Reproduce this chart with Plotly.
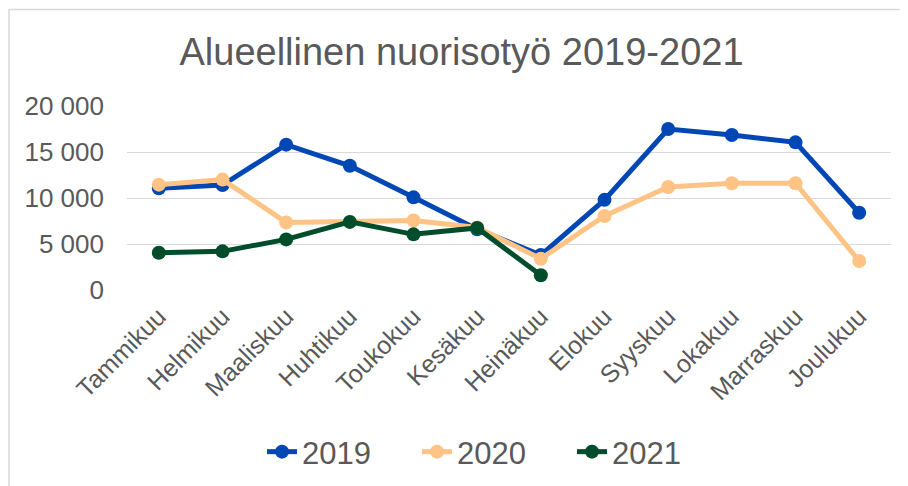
import plotly.graph_objects as go

months = ["Tammikuu", "Helmikuu", "Maaliskuu", "Huhtikuu", "Toukokuu", "Kesäkuu",
          "Heinäkuu", "Elokuu", "Syyskuu", "Lokakuu", "Marraskuu", "Joulukuu"]
v2019 = [11050, 11400, 15800, 13500, 10070, 6600, 3800, 9800, 17500, 16850, 16050, 8400]
v2020 = [11450, 12000, 7350, 7400, 7550, 6800, 3400, 8050, 11200, 11600, 11600, 3150]
v2021 = [4050, 4200, 5500, 7400, 6050, 6750, 1600]
series_names = ["2019", "2020", "2021"]
colors = ["#0047B6", "#FFC485", "#004D2C"]
yticks = [0, 5000, 10000, 15000, 20000]

# page offset (default body margin)
OFF = 8
W, H = 908 - OFF, 486 - OFF
# page coords of the plot area
PL, PR, PT, PB = 127, 891, 106, 290
L, R, T, B = PL - OFF, (W + OFF) - PR, PT - OFF, (H + OFF) - PB

fig = go.Figure()
for name, vals, c in zip(series_names, [v2019, v2020, v2021], colors):
    fig.add_trace(go.Scatter(
        x=months[:len(vals)], y=vals, name=name, mode="lines+markers",
        line=dict(color=c, width=5),
        marker=dict(color=c, size=14),
    ))

pw, ph = PR - PL, PB - PT
def px_x(p):
    return (p - PL) / pw
def px_y(p):
    return (PB - p) / ph

fig.add_shape(type="rect", xref="paper", yref="paper",
              x0=px_x(OFF + 1), x1=px_x(930), y0=px_y(500), y1=px_y(9.5),
              line=dict(color="#D9D9D9", width=1.5), layer="below")

font_family = "Liberation Sans, Arial, sans-serif"
fig.update_layout(
    width=W, height=H,
    margin=dict(l=L, r=R, t=T, b=B, pad=0),
    paper_bgcolor="white", plot_bgcolor="white",
    separators=", ",
    font=dict(family=font_family, color="#595959"),
    title=dict(text="Alueellinen nuorisotyö 2019-2021", font=dict(size=38, color="#595959"),
               x=(461.5 - OFF) / W, xref="container", xanchor="center",
               y=1 - (52 - OFF) / H, yref="container", yanchor="middle"),
    xaxis=dict(categoryorder="array", categoryarray=months, range=[-0.5, 11.5],
               showgrid=False, showline=False, zeroline=False, ticks="",
               tickangle=-45, ticklabelstandoff=6,
               tickfont=dict(size=25, color="#595959")),
    yaxis=dict(range=[0, 20000], tickvals=yticks, tickformat=",d",
               showgrid=True, gridcolor="#D9D9D9", gridwidth=1.3,
               zeroline=False, showline=False, ticks="",
               ticklabelstandoff=22,
               tickfont=dict(size=26, color="#595959")),
    showlegend=True,
    legend=dict(orientation="h", x=(262 - OFF) / W, xref="container", xanchor="left",
                y=1 - (452 - OFF) / H, yref="container", yanchor="middle",
                font=dict(size=31, color="#595959"),
                entrywidth=110, entrywidthmode="pixels",
                bgcolor="rgba(0,0,0,0)"),
)

fig.write_html("out.html")
